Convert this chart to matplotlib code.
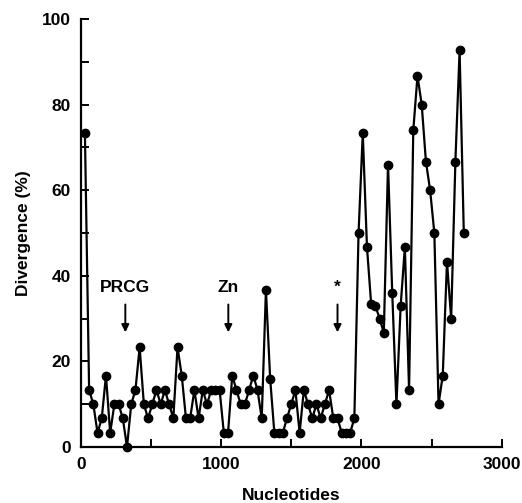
import matplotlib
matplotlib.use("Agg")
import matplotlib.pyplot as plt
from matplotlib.ticker import MultipleLocator, FixedLocator

plt.rcParams['font.family'] = ['Liberation Sans', 'DejaVu Sans']
plt.rcParams['font.weight'] = 'bold'

nucleotides = [30, 60, 90, 120, 150, 180, 210, 240, 270, 300,
               330, 360, 390, 420, 450, 480, 510, 540, 570, 600,
               630, 660, 690, 720, 750, 780, 810, 840, 870, 900,
               930, 960, 990, 1020, 1050, 1080, 1110, 1140, 1170, 1200,
               1230, 1260, 1290, 1320, 1350, 1380, 1410, 1440, 1470, 1500,
               1530, 1560, 1590, 1620, 1650, 1680, 1710, 1740, 1770, 1800,
               1830, 1860, 1890, 1920, 1950, 1980, 2010, 2040, 2070, 2100,
               2130, 2160, 2190, 2220, 2250, 2280, 2310, 2340, 2370, 2400,
               2430, 2460, 2490, 2520, 2550, 2580, 2610, 2640, 2670, 2700,
               2730]
divergence = [73.3, 13.3, 10, 3.3, 6.7, 16.7, 3.3, 10, 10, 6.7,
              0, 10, 13.3, 23.3, 10, 6.7, 10, 13.3, 10, 13.3,
              10, 6.7, 23.3, 16.7, 6.7, 6.7, 13.3, 6.7, 13.3, 10,
              13.3, 13.3, 13.3, 3.3, 3.3, 16.7, 13.3, 10, 10, 13.3,
              16.7, 13.3, 6.7, 36.7, 16, 3.3, 3.3, 3.3, 6.7, 10,
              13.3, 3.3, 13.3, 10, 6.7, 10, 6.7, 10, 13.3, 6.7,
              6.7, 3.3, 3.3, 3.3, 6.7, 50, 73.3, 46.7, 33.3, 33,
              30, 26.7, 66, 36, 10, 33, 46.7, 13.3, 74, 86.7,
              80, 66.7, 60, 50, 10, 16.7, 43.3, 30, 66.7, 92.7,
              50]

annotations = ["PRCG", "Zn", "*"]
annot_x = [318, 1052, 1830]

fig = plt.figure(figsize=(5.22, 5.03), dpi=100)
ax = fig.add_axes([0.1546, 0.1113, 0.8065, 0.851])

ax.plot(nucleotides, divergence, color='black', lw=1.6, marker='o',
        markersize=6, markerfacecolor='black', markeredgecolor='black',
        clip_on=False, zorder=3)

ax.set_xlim(0, 3000)
ax.set_ylim(0, 100)
ax.spines['top'].set_visible(False)
ax.spines['right'].set_visible(False)
for s in ['left', 'bottom']:
    ax.spines[s].set_linewidth(1.6)

ax.xaxis.set_major_locator(FixedLocator([0, 1000, 2000, 3000]))
ax.xaxis.set_minor_locator(FixedLocator([500, 1500, 2500]))
ax.yaxis.set_major_locator(MultipleLocator(20))
ax.yaxis.set_minor_locator(MultipleLocator(10))
ax.tick_params(which='both', direction='in', length=6, width=1.4)
ax.tick_params(which='major', labelsize=12.5, pad=7)
for lab in ax.get_xticklabels() + ax.get_yticklabels():
    lab.set_fontweight('bold')

ax.set_xlabel("Nucleotides", fontsize=12.5, fontweight='bold', labelpad=12)
ax.set_ylabel("Divergence (%)", fontsize=12.5, fontweight='bold', labelpad=8)

for label, xv in zip(annotations, annot_x):
    ax.annotate("", xy=(xv, 26.8), xytext=(xv, 33.3),
                arrowprops=dict(arrowstyle='-|>', lw=1.4, color='black',
                                mutation_scale=11, shrinkA=0, shrinkB=0))
    ax.text(xv, 35.5, label, ha='center', va='bottom', fontsize=12.5,
            fontweight='bold')

fig.savefig("out.png", dpi=100)
